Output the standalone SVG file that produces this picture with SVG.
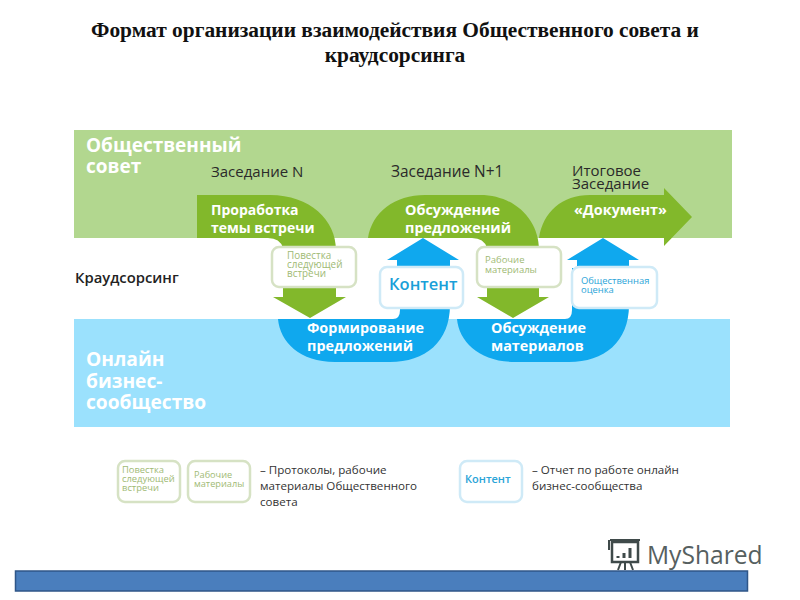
<svg xmlns="http://www.w3.org/2000/svg" width="800" height="600" viewBox="0 0 800 600">
<style>
text{font-family:"Open Sans","Noto Sans","Liberation Sans",sans-serif}
.title{font-family:"Liberation Serif",serif;font-size:21.4px;font-weight:700;fill:#111;text-anchor:middle}
.band{font-size:19.2px;font-weight:700;fill:#fff}
.sess{font-size:15px;fill:#2a2a2a}
.w{font-size:14.4px;font-weight:700;fill:#fff}
.g{fill:#82b82b}
.b{fill:#0fa8ee}
.boxg{fill:#fff;stroke:#d6e2c4;stroke-width:2.5}
.boxb{fill:#fff;stroke:#cfeaf7;stroke-width:2.5}
.sg{font-size:9.5px;fill:#a0ba74}
.sb{font-size:9.4px;fill:#2aa4d8}
.leg{font-size:11.6px;fill:#333}
</style>
<rect width="800" height="600" fill="#fff"/>
<text class="title" x="395" y="37">Формат организации взаимодействия Общественного совета и</text>
<text class="title" x="395" y="62">краудсорсинга</text>

<g id="band-council"><rect x="74" y="130" width="658" height="108" fill="#b2d78f"/>
<text class="band" style="font-size:19px"><tspan x="86" y="152">Общественный</tspan><tspan x="86" y="173">совет</tspan></text></g>
<g id="band-online"><rect x="74" y="319" width="656" height="108" fill="#9be1fd"/>
<text class="band"><tspan x="86" y="366">Онлайн</tspan><tspan x="86" y="388">бизнес-</tspan><tspan x="86" y="409">сообщество</tspan></text></g>
<g id="crowd"><text x="75" y="283" font-size="14.800" font-weight="600" fill="#222">Краудсорсинг</text></g>
<g id="sessions">
<text class="sess" x="211" y="177">Заседание N</text>
<text class="sess" x="391" y="177" style="font-size:15.400px">Заседание N+1</text>
<text class="sess"><tspan x="572" y="176">Итоговое</tspan><tspan x="572" y="189">Заседание</tspan></text></g>

<g id="connectors">
<path class="b" d="M278 319H393Q400 319 400 310V268H397V260H387L423 238L459 260H450V305C450 342 425 362 390 362H335C300 362 280 342 278 319Z"/>
<path class="b" d="M457 319H565Q572 319 572 310V268H577V260H567L603 238L639 260H629V305C629 342 604 362 569 362H515C480 362 459 342 457 319Z"/>
<path class="g" d="M197 195H270C310 195 336 220 336 250V297H346L310 318L273 297H283V248Q280 238 268 238H197Z"/>
<path class="g" d="M368 238C372 212 395 195 425 195H480C515 195 539 220 539 250V297H549L513 318L477 297H487V248Q484 238 472 238H368Z"/>
<path class="g" d="M539 238C543 212 562 195 590 195H664V188L692 217L664 246V238Z"/>
</g>

<g id="n-povestka"><rect class="boxg" x="272" y="247" width="84" height="40" rx="7"/>
<text class="sg" style="font-size:9.900px"><tspan x="287" y="259">Повестка</tspan><tspan x="287" y="268">следующей</tspan><tspan x="287" y="277">встречи</tspan></text></g>
<g id="n-kontent"><rect class="boxb" x="380" y="267" width="83" height="41" rx="7"/>
<text x="389" y="290" font-size="16.500" font-weight="600" fill="#1a9fd8">Контент</text></g>
<g id="n-rabochie"><rect class="boxg" x="477" y="247" width="84" height="40" rx="7"/>
<text class="sg"><tspan x="485" y="263">Рабочие</tspan><tspan x="485" y="273">материалы</tspan></text></g>
<g id="n-ocenka"><rect class="boxb" x="572" y="267" width="85" height="41" rx="7"/>
<text class="sb"><tspan x="581" y="284">Общественная</tspan><tspan x="581" y="293">оценка</tspan></text></g>

<g id="labels">
<text class="w" style="font-size:14px"><tspan x="211" y="215">Проработка</tspan><tspan x="211" y="233">темы встречи</tspan></text>
<text class="w"><tspan x="405" y="215">Обсуждение</tspan><tspan x="405" y="233">предложений</tspan></text>
<text class="w" x="574" y="215">«Документ»</text>
<text class="w"><tspan x="307" y="333">Формирование</tspan><tspan x="307" y="351">предложений</tspan></text>
<text class="w"><tspan x="491" y="333">Обсуждение</tspan><tspan x="491" y="351">материалов</tspan></text>
</g>

<g id="legend-povestka"><rect class="boxg" x="118" y="461" width="62" height="41" rx="7"/>
<text class="sg" style="font-size:9.400px"><tspan x="122" y="473">Повестка</tspan><tspan x="122" y="482">следующей</tspan><tspan x="122" y="491">встречи</tspan></text></g>
<g id="legend-rabochie"><rect class="boxg" x="188" y="461" width="62" height="41" rx="7"/>
<text class="sg" style="font-size:9.200px"><tspan x="194" y="478">Рабочие</tspan><tspan x="194" y="487">материалы</tspan></text></g>
<g id="legend-text-1"><text class="leg"><tspan x="260" y="474">– Протоколы, рабочие</tspan><tspan x="260" y="490">материалы Общественного</tspan><tspan x="260" y="506">совета</tspan></text></g>
<g id="legend-kontent"><rect class="boxb" x="460" y="461" width="62" height="41" rx="7"/>
<text x="465" y="483" font-size="11" font-weight="600" fill="#2aa4d8">Контент</text></g>
<g id="legend-text-2"><text class="leg"><tspan x="532" y="474">– Отчет по работе онлайн</tspan><tspan x="532" y="490">бизнес-сообщества</tspan></text></g>

<g id="watermark" fill="none" stroke="#3f4a4a">
<rect x="612" y="542" width="26" height="20" stroke-width="2.500"/>
<path d="M610 540H640M609 540V550M621 562L618 570M630 562L633 570M625 562V570" stroke-width="2"/>
<path d="M618 558V556M624 558V553M630 558V548" stroke-width="3"/>
<text x="647" y="564" font-size="24.600" fill="#56605f" stroke="none">MyShared</text>
</g>
<g id="bar"><rect x="15.500" y="571" width="732" height="20" fill="#4a7ebd" stroke="#2f5688" stroke-width="1.500"/></g>
</svg>
